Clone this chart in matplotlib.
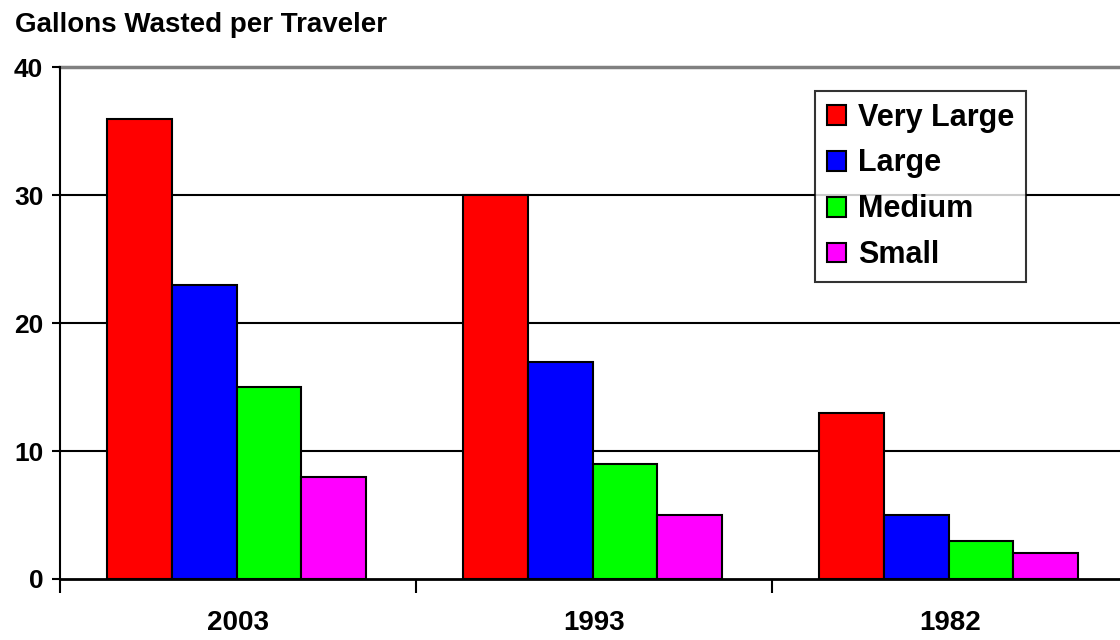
import numpy as np
import matplotlib.pyplot as plt

years = ["2003", "1993", "1982"]
sizes = ["Very Large", "Large", "Medium", "Small"]
very_large = [36, 30, 13]
large = [23, 17, 5]
medium = [15, 9, 3]
small = [8, 5, 2]
colors = ["#ff0000", "#0000ff", "#00ff00", "#ff00ff"]

plt.rcParams['font.family'] = ['Liberation Sans', 'DejaVu Sans']
plt.rcParams['font.weight'] = 'bold'

fig = plt.figure(figsize=(11.2, 6.4), dpi=100)
ax = fig.add_axes([60 / 1120, 1 - 579 / 640, 1068 / 1120, 511.5 / 640])

x = np.arange(len(years))
width = 0.182
offset = 0.132
for i, (vals, name) in enumerate(zip([very_large, large, medium, small], sizes)):
    ax.bar(x + offset + i * width, vals, width, align='edge', color=colors[i],
           edgecolor='black', linewidth=1.5, label=name, zorder=3)

ax.set_xlim(0, 3)
ax.set_ylim(0, 40)

# horizontal gridlines, the top one lighter
for y in [10, 20, 30]:
    ax.axhline(y, color='black', linewidth=1.5, zorder=1)
ax.axhline(40, color='#808080', linewidth=2.5, zorder=1, clip_on=False)

for side in ['top', 'right']:
    ax.spines[side].set_visible(False)
ax.spines['left'].set_linewidth(1.5)
ax.spines['bottom'].set_linewidth(2)

ax.set_yticks([0, 10, 20, 30, 40])
ax.tick_params(axis='y', length=6, width=1.5, labelsize=19, pad=6)

# category boundaries carry the ticks, names sit at the centres
ax.set_xticks([0, 1, 2, 3])
ax.set_xticklabels([])
ax.set_xticks(x + 0.5, minor=True)
ax.set_xticklabels(years, minor=True, fontsize=20)
ax.tick_params(axis='x', which='major', length=10, width=1.5)
ax.tick_params(axis='x', which='minor', length=0, pad=22)

fig.text(15 / 1120, 1 - 25 / 640, "Gallons Wasted per Traveler", fontsize=20,
         fontweight='bold', va='center', ha='left')

leg = ax.legend(loc='upper left', bbox_to_anchor=(815 / 1120, 1 - 91 / 640),
                bbox_transform=fig.transFigure, fontsize=22, frameon=True,
                fancybox=False, edgecolor='black', handlelength=0.62,
                handleheight=0.62, handletextpad=0.4, labelspacing=0.52,
                borderpad=0.38, borderaxespad=0)
leg.get_frame().set_linewidth(1.5)

fig.savefig("out.png", dpi=100)
